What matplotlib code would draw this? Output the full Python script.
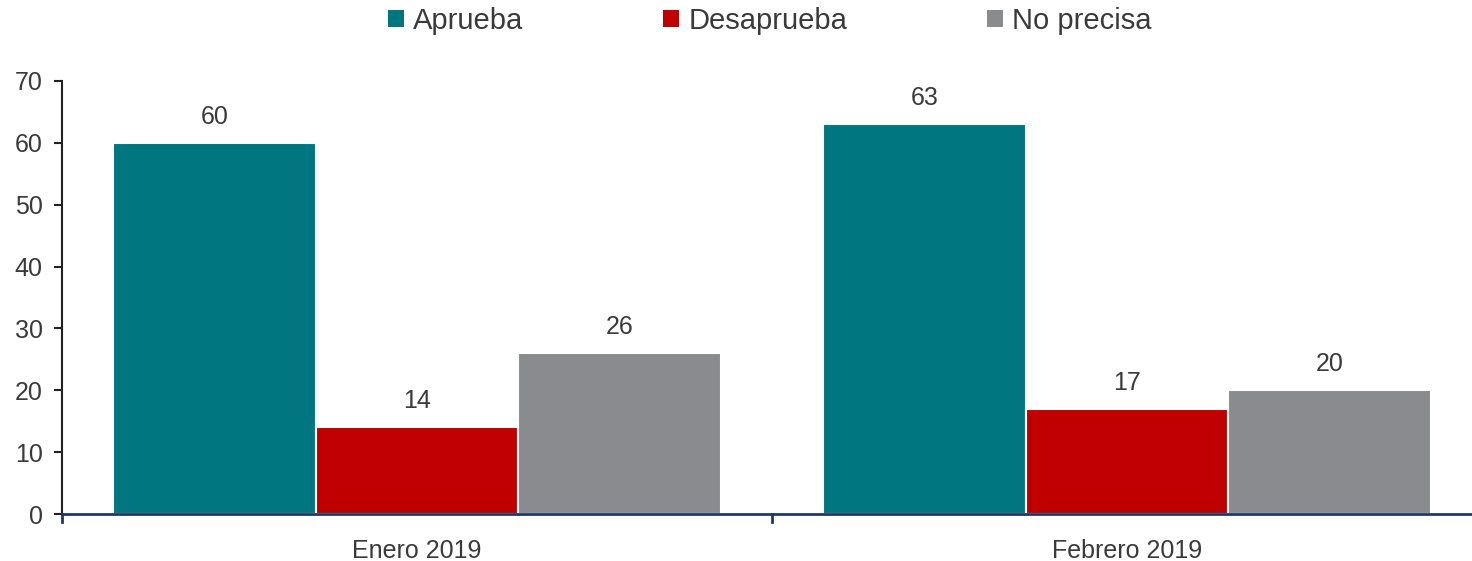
import numpy as np
import matplotlib.pyplot as plt
from matplotlib.patches import Patch

# Data
categories = ['Enero 2019', 'Febrero 2019']
series = ['Aprueba', 'Desaprueba', 'No precisa']
aprueba = [60, 63]
desaprueba = [14, 17]
no_precisa = [26, 20]
colors = ['#007680', '#C00000', '#898B8E']

plt.rcParams['font.family'] = ['Liberation Sans', 'DejaVu Sans']
text_col = '#3A3A3A'

fig = plt.figure(figsize=(14.72, 5.61), dpi=100)
ax = fig.add_axes([62 / 1472, 47 / 561, 1410 / 1472, 433 / 561])

x = np.arange(len(categories))
width = 0.2855
values = [aprueba, desaprueba, no_precisa]
for i, (vals, col) in enumerate(zip(values, colors)):
    bars = ax.bar(x + (i - 1) * width, vals, width, color=col,
                  edgecolor='white', linewidth=1.5, zorder=2)
    for b, v in zip(bars, vals):
        ax.text(b.get_x() + b.get_width() / 2, v + 2.3, str(v),
                ha='center', va='bottom', fontsize=18, color=text_col)

ax.set_xlim(-0.5, 1.486)
ax.set_ylim(0, 70)
ax.set_yticks(range(0, 71, 10))
ax.tick_params(axis='y', labelsize=18, labelcolor=text_col, length=6,
               width=1.5, color='#222222', pad=8)

ax.set_xticks(x)
ax.set_xticklabels(categories, fontsize=18, color=text_col)
ax.tick_params(axis='x', length=0, pad=18)
# separators between categories
for xb in [-0.5, 0.5]:
    ax.plot([xb, xb], [0, -1.3], color='#1F3A5F', lw=2, clip_on=False, zorder=3)

for s in ['top', 'right']:
    ax.spines[s].set_visible(False)
ax.spines['left'].set_color('#222222')
ax.spines['left'].set_linewidth(1.5)
ax.spines['bottom'].set_color('#1F3A5F')
ax.spines['bottom'].set_linewidth(2)

handles = [Patch(facecolor=c, edgecolor='none') for c in colors]
fig.legend(handles, series, loc='center', bbox_to_anchor=(0.523, 0.963), ncol=3,
           frameon=False, fontsize=21, handlelength=0.55, handleheight=0.55,
           handletextpad=0.3, columnspacing=4.8, labelcolor=text_col)

fig.savefig('out.png', dpi=100)
